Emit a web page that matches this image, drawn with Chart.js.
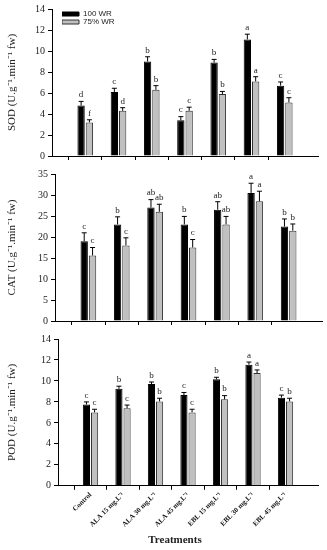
<!DOCTYPE html>
<html>
<head>
<meta charset="utf-8">
<script src="https://cdn.jsdelivr.net/npm/chart.js@4.4.1/dist/chart.umd.min.js"></script>
<style>
body { margin:0; background:#fff; }
#wrap { position:relative; width:327px; height:550px; }
canvas { position:absolute; left:0; }
</style>
</head>
<body>
<div id="wrap">
<canvas id="c1" width="327" height="165" style="top:0px"></canvas>
<canvas id="c2" width="327" height="165" style="top:165px"></canvas>
<canvas id="c3" width="327" height="220" style="top:330px"></canvas>
</div>
<script>
// treatments on the x axis
var treatments = ['Control', 'ALA 15 mg.L\u207B\u00B9', 'ALA 30 mg.L\u207B\u00B9', 'ALA 45 mg.L\u207B\u00B9',
                  'EBL 15 mg.L\u207B\u00B9', 'EBL 30 mg.L\u207B\u00B9', 'EBL 45 mg.L\u207B\u00B9'];
var seriesNames = ['100 WR', '75% WR'];

// SOD
var sod100 = [4.8, 6.1, 9.0, 3.4, 8.9, 11.1, 6.7];
var sod100Err = [0.4, 0.35, 0.45, 0.35, 0.3, 0.5, 0.35];
var sod75 = [3.2, 4.3, 6.3, 4.3, 5.9, 7.1, 5.1];
var sod75Err = [0.25, 0.3, 0.4, 0.35, 0.25, 0.45, 0.45];
var sod100Letters = ['d', 'c', 'b', 'c', 'b', 'a', 'c'];
var sod75Letters = ['f', 'd', 'b', 'c', 'b', 'a', 'c'];

// CAT
var cat100 = [19.0, 23.0, 27.0, 23.0, 26.5, 30.5, 22.5];
var cat100Err = [2.0, 1.8, 1.9, 1.9, 1.9, 2.3, 1.8];
var cat75 = [15.6, 18.0, 26.0, 17.5, 23.0, 28.5, 21.5];
var cat75Err = [1.9, 1.8, 1.8, 1.9, 1.9, 2.4, 1.6];
var cat100Letters = ['c', 'b', 'ab', 'b', 'ab', 'a', 'b'];
var cat75Letters = ['c', 'c', 'ab', 'c', 'ab', 'a', 'b'];

// POD
var pod100 = [7.75, 9.25, 9.7, 8.65, 10.15, 11.55, 8.4];
var pod100Err = [0.25, 0.25, 0.2, 0.25, 0.2, 0.25, 0.25];
var pod75 = [7.0, 7.4, 8.05, 7.0, 8.25, 10.75, 8.05];
var pod75Err = [0.3, 0.3, 0.3, 0.3, 0.35, 0.3, 0.3];
var pod100Letters = ['c', 'b', 'b', 'c', 'b', 'a', 'c'];
var pod75Letters = ['c', 'c', 'b', 'c', 'b', 'a', 'b'];

var yTitles = ['SOD (U.g\u207B\u00B9.min\u207B\u00B9 fw)', 'CAT (U.g\u207B\u00B9.min\u207B\u00B9 fw)', 'POD (U.g\u207B\u00B9.min\u207B\u00B9 fw)'];

var SERIF = "'Liberation Serif', 'Times New Roman', serif";
var SANS = "'Liberation Sans', Arial, sans-serif";

// pad with an empty slot on both ends so the groups sit like the original
function pad(arr, blank) {
    return [blank].concat(arr).concat([blank]);
}

// error bars + letters drawn on top of the bars
var errorBarPlugin = {
    id: 'errorBars',
    afterLayout: function(chart) {
        // legend sits inside the plot, a bit away from the axis
        if (chart.legend && chart.options.plugins.legend.display) {
            chart.legend.left = chart.chartArea.left + 10;
            chart.legend.top = chart.chartArea.top + 1;
        }
        if (chart.titleBlock && chart.options.plugins.title.display) {
            chart.titleBlock.left += 16;
            chart.titleBlock.right += 16;
        }
    },
    afterDatasetsDraw: function(chart) {
        var ctx = chart.ctx;
        var y = chart.scales.y;
        chart.data.datasets.forEach(function(ds, i) {
            var meta = chart.getDatasetMeta(i);
            meta.data.forEach(function(bar, j) {
                var v = ds.data[j];
                if (v === null || v === undefined) return;
                var top = y.getPixelForValue(v + ds.errors[j]);
                ctx.save();
                ctx.strokeStyle = '#000';
                ctx.lineWidth = 1;
                ctx.beginPath();
                ctx.moveTo(bar.x, bar.y);
                ctx.lineTo(bar.x, top);
                ctx.moveTo(bar.x - 2.5, top);
                ctx.lineTo(bar.x + 2.5, top);
                ctx.stroke();
                ctx.fillStyle = '#222';
                ctx.font = '9px ' + SERIF;
                ctx.textAlign = 'center';
                ctx.textBaseline = 'bottom';
                ctx.fillText(ds.letters[j], bar.x, top - 2);
                ctx.restore();
            });
        });
    }
};

function makePanel(id, d100, e100, l100, d75, e75, l75, opt) {
    var ctx = document.getElementById(id).getContext('2d');
    var hideEnds = function(c) { return (c.index === 0 || c.index === treatments.length + 1) ? 'rgba(0,0,0,0)' : '#000'; };
    return new Chart(ctx, {
        type: 'bar',
        data: {
            labels: pad(treatments, ''),
            datasets: [{
                label: seriesNames[0],
                data: pad(d100, null),
                errors: pad(e100, 0),
                letters: pad(l100, ''),
                backgroundColor: '#000',
                borderColor: '#000',
                borderWidth: 1
            }, {
                label: seriesNames[1],
                data: pad(d75, null),
                errors: pad(e75, 0),
                letters: pad(l75, ''),
                backgroundColor: '#c0c0c0',
                borderColor: '#333',
                borderWidth: 1
            }]
        },
        options: {
            responsive: false,
            animation: false,
            categoryPercentage: 0.5,
            barPercentage: 0.88,
            layout: { padding: { top: opt.top, right: opt.right, left: 0, bottom: 0 } },
            plugins: {
                tooltip: { enabled: false },
                legend: {
                    display: opt.legend,
                    position: 'chartArea',
                    align: 'start',
                    labels: {
                        boxWidth: 17,
                        boxHeight: 4,
                        padding: 0,
                        color: '#222',
                        font: { family: SANS, size: 8 }
                    }
                },
                title: {
                    display: opt.xTitle,
                    position: 'bottom',
                    text: 'Treatments',
                    color: '#222',
                    font: { family: SERIF, size: 11, weight: 'bold' },
                    padding: { top: 0, bottom: 3 }
                }
            },
            scales: {
                x: {
                    offset: false,
                    border: { display: true, color: '#000', width: 1 },
                    grid: { drawOnChartArea: false, drawTicks: true, tickLength: 4, color: hideEnds },
                    ticks: {
                        display: opt.xLabels,
                        autoSkip: false,
                        minRotation: 45,
                        maxRotation: 45,
                        padding: 1,
                        color: '#111',
                        font: { family: SERIF, size: 7, weight: 'bold' }
                    },
                    afterFit: function(s) { s.height = opt.xHeight; }
                },
                y: {
                    min: 0,
                    max: opt.max,
                    border: { display: true, color: '#000', width: 1 },
                    grid: { drawOnChartArea: false, drawTicks: true, tickLength: 4, color: '#000' },
                    ticks: {
                        stepSize: opt.step,
                        padding: 3,
                        color: '#222',
                        font: { family: SERIF, size: 10 }
                    },
                    title: {
                        display: true,
                        text: opt.yTitle,
                        color: '#222',
                        font: { family: SERIF, size: 11 },
                        padding: { top: 6, bottom: 0 }
                    },
                    afterFit: function(s) { s.width = opt.yWidth; }
                }
            }
        },
        plugins: [errorBarPlugin]
    });
}

window.onload = function() {
    makePanel('c1', sod100, sod100Err, sod100Letters, sod75, sod75Err, sod75Letters,
        { max: 14, step: 2, yTitle: yTitles[0], top: 8, right: 9, yWidth: 52, xHeight: 8, legend: true, xLabels: false, xTitle: false });
    makePanel('c2', cat100, cat100Err, cat100Letters, cat75, cat75Err, cat75Letters,
        { max: 35, step: 5, yTitle: yTitles[1], top: 9, right: 5, yWidth: 55, xHeight: 7, legend: false, xLabels: false, xTitle: false });
    makePanel('c3', pod100, pod100Err, pod100Letters, pod75, pod75Err, pod75Letters,
        { max: 14, step: 2, yTitle: yTitles[2], top: 8, right: 9, yWidth: 58, xHeight: 48, legend: false, xLabels: true, xTitle: true });
};
</script>
</body>
</html>
